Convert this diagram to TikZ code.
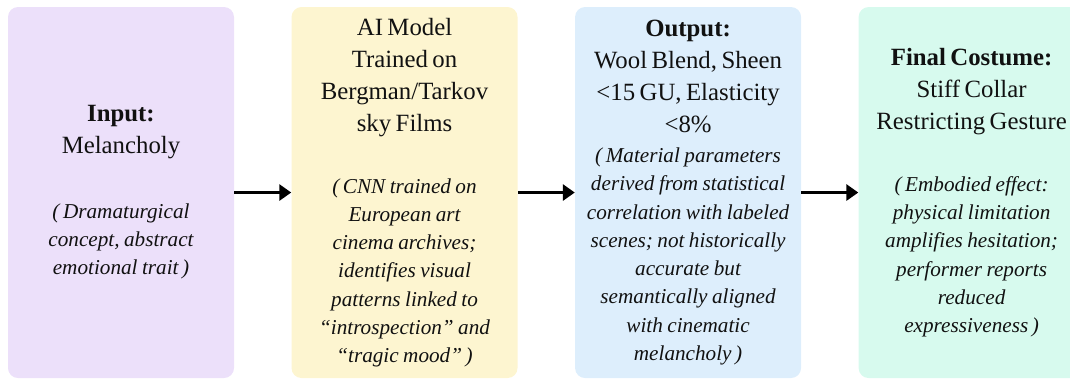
\documentclass[tikz,border=0pt]{standalone}
\usepackage{fontspec}
\setmainfont{Liberation Serif}
\usepackage{xcolor}
\usetikzlibrary{arrows.meta,positioning}
\definecolor{inputfill}{HTML}{ECE0FA}
\definecolor{modelfill}{HTML}{FDF5D0}
\definecolor{outputfill}{HTML}{DDEEFC}
\definecolor{costumefill}{HTML}{D7FAEE}
\definecolor{inkdark}{HTML}{111111}
\setlength{\parindent}{0pt}
\newcommand{\headfont}{\fontsize{18.6}{24}\selectfont}
\newcommand{\notefont}{\itshape\fontsize{15.9}{21.2}\selectfont}

\begin{document}
\begin{tikzpicture}[
  stage/.style={rounded corners=7.5pt,minimum width=169.5pt,minimum height=278.25pt,
    text width=166pt,align=center,inner sep=0pt,text=inkdark},
  flow/.style={line width=2.6pt,-{Triangle[length=9pt,width=12pt]}}
]
  \useasboundingbox (0,0) rectangle (802.5pt,286.5pt);
  % the four stages
  \node[stage,fill=inputfill] (input) at (90.75pt,142.1pt) {%
    {\headfont\textbf{Input:}\\Melancholy\par}\vspace{27pt}
    {\notefont (\,Dramaturgical\\concept, abstract\\emotional trait\,)\par}};
  \node[stage,fill=modelfill,right=42.75pt of input] (model) {%
    {\headfont AI Model\\Trained on\\Bergman/Tarkov\\sky Films\par}\vspace{25.3pt}
    {\notefont (\,CNN trained on\\European art\\cinema archives;\\identifies visual\\patterns linked to\\``introspection'' and\\``tragic mood''\,)\par}};
  \node[stage,fill=outputfill,right=42.75pt of model] (output) {%
    {\headfont\textbf{Output:}\\Wool Blend, Sheen\\<15 GU, Elasticity\\<8\%\par}\vspace{1.3pt}
    {\notefont (\,Material parameters\\derived from statistical\\correlation with labeled\\scenes; not historically\\accurate but\\semantically aligned\\with cinematic\\melancholy\,)\par}};
  \node[stage,fill=costumefill,right=42.75pt of output] (costume) {%
    {\headfont\textbf{Final Costume:}\\Stiff Collar\\Restricting Gesture\par}\vspace{25.3pt}
    {\notefont (\,Embodied effect:\\physical limitation\\amplifies hesitation;\\performer reports\\reduced\\expressiveness\,)\par}};
  % connectors
  \draw[flow] (input) -- (model);
  \draw[flow] (model) -- (output);
  \draw[flow] (output) -- (costume);
\end{tikzpicture}
\end{document}
